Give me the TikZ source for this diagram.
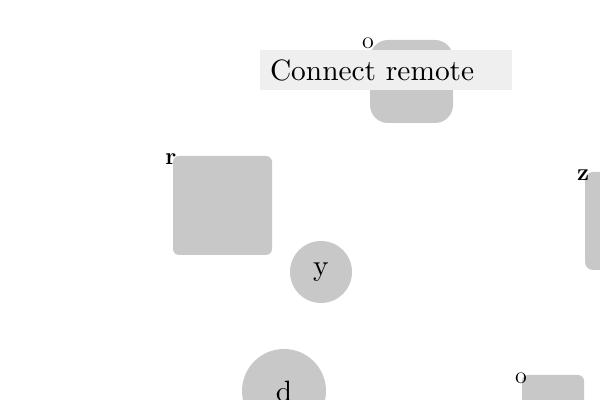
\documentclass[tikz,border=0pt]{standalone}
\usepackage{graphicx}
\usepackage{tikz}
\usetikzlibrary{positioning}
\definecolor{boxgrey}{HTML}{C8C8C8}
\definecolor{bargrey}{HTML}{EFEFEF}
\tikzset{
  shape box/.style={fill=boxgrey,inner sep=0pt,outer sep=0pt},
  lbl/.style={font=\large\bfseries,inner sep=0pt},
}
\newcommand*{\enl}[1]{\scalebox{1.47}{#1}}

\begin{document}
\begin{tikzpicture}[x=0.5pt,y=-0.5pt]
\useasboundingbox (0,0) rectangle (600,400);
\clip (0,0) rectangle (600,400);
% grey shapes
\node[shape box,rounded corners=9pt,minimum size=41.5pt] (top) at (411.5,81.5) {};
\node[shape box,rounded corners=3pt,minimum size=49.5pt] (left) at (222.5,205.5) {};
\node[shape box,rounded corners=4pt,minimum width=30pt,minimum height=49pt] (right) at (615,221) {};
\node[shape box,rounded corners=3pt,minimum width=31pt,minimum height=30pt] (corner) at (553,405) {};
\node[shape box,circle,minimum size=31pt] (y) at (321,272) {\enl{y}};
\node[shape box,circle,minimum size=42pt] (d) at (284,391) {\enl{d}};
% bar over the top box
\node[fill=bargrey,minimum width=126pt,minimum height=20pt,inner xsep=5pt,
      text width=116pt,align=left] (bar) at (386,70) {\enl{Connect remote}};
% corner labels
\node[inner sep=0pt,font=\large] (otop) at ([xshift=-1pt,yshift=-1.5pt]top.north west) {o};
\node[lbl] (rlab) at ([xshift=-1pt,yshift=-1.5pt]left.north west) {r};
\node[lbl] (zlab) at ([xshift=-1pt,yshift=-1.5pt]right.north west) {z};
\node[inner sep=0pt,font=\large] (obot) at ([xshift=-0.5pt,yshift=-1.5pt]corner.north west) {o};
\end{tikzpicture}
\end{document}
